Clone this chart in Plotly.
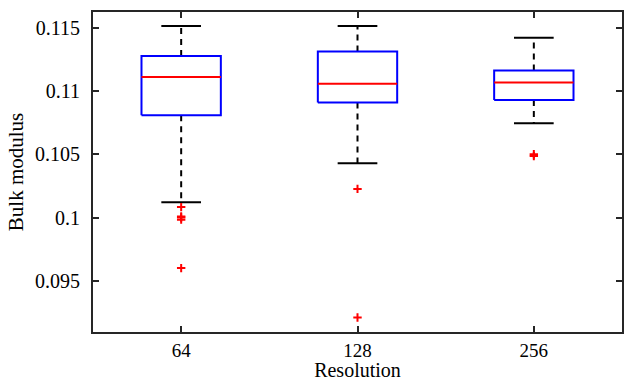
import plotly.graph_objects as go

categories = ["64", "128", "256"]
q1 = [0.1081, 0.1091, 0.10931]
median = [0.11113, 0.11058, 0.11068]
q3 = [0.11279, 0.11313, 0.11163]
lower_whisker = [0.10123, 0.10431, 0.10747]
upper_whisker = [0.11516, 0.11516, 0.11423]
outliers = [
    [0.10084, 0.1001, 0.10002, 0.09985, 0.09602],
    [0.10228, 0.09212],
    [0.10502, 0.10487],
]
ytick_vals = [0.095, 0.1, 0.105, 0.11, 0.115]
ytick_text = ["0.095", "0.1", "0.105", "0.11", "0.115"]

BOX_HW = 0.225
CAP_HW = 0.1125
FONT = "Liberation Serif"

fig = go.Figure()
for i, cat in enumerate(categories):
    x = i + 1
    fig.add_trace(go.Scatter(
        x=[x, x, None, x, x],
        y=[q3[i], upper_whisker[i], None, q1[i], lower_whisker[i]],
        mode="lines", line=dict(color="black", width=2, dash="6px,5px"),
        showlegend=False, hoverinfo="skip"))
    fig.add_trace(go.Scatter(
        x=[x - CAP_HW, x + CAP_HW, None, x - CAP_HW, x + CAP_HW],
        y=[upper_whisker[i], upper_whisker[i], None, lower_whisker[i], lower_whisker[i]],
        mode="lines", line=dict(color="black", width=2),
        showlegend=False, hoverinfo="skip"))
    fig.add_trace(go.Scatter(
        x=[x - BOX_HW, x + BOX_HW, x + BOX_HW, x - BOX_HW, x - BOX_HW],
        y=[q1[i], q1[i], q3[i], q3[i], q1[i]],
        mode="lines", line=dict(color="#0000ff", width=2),
        showlegend=False, hoverinfo="skip"))
    fig.add_trace(go.Scatter(
        x=[x - BOX_HW, x + BOX_HW], y=[median[i], median[i]],
        mode="lines", line=dict(color="#ff0000", width=2),
        showlegend=False, hoverinfo="skip"))
    fig.add_trace(go.Scatter(
        x=[x] * len(outliers[i]), y=outliers[i], mode="markers",
        marker=dict(symbol="cross-thin", size=6, line=dict(color="#ff0000", width=2)),
        showlegend=False))

fig.update_layout(
    width=625, height=381,
    margin=dict(l=93, r=1, t=12, b=49),
    plot_bgcolor="white", paper_bgcolor="white",
    font=dict(family=FONT, size=19, color="black"),
)
fig.update_xaxes(
    range=[0.5, 3.5], tickvals=[1, 2, 3], ticktext=categories,
    showgrid=False, zeroline=False, showline=True, linecolor="#262626", linewidth=2,
    mirror="ticks", ticks="inside", ticklen=6, tickwidth=1.5, tickcolor="#262626",
    tickfont=dict(family=FONT, size=19, color="black"),
    title=dict(text="Resolution", standoff=2, font=dict(family=FONT, size=20, color="black")),
)
fig.update_yaxes(
    range=[0.09097, 0.11626], tickvals=ytick_vals, ticktext=ytick_text,
    showgrid=False, zeroline=False, showline=True, linecolor="#262626", linewidth=2,
    mirror="ticks", ticks="inside", ticklen=6, tickwidth=1.5, tickcolor="#262626",
    ticklabelstandoff=7,
    tickfont=dict(family=FONT, size=20, color="black"),
    title=dict(text="Bulk modulus", standoff=6, font=dict(family=FONT, size=21, color="black")),
)
fig.write_html("out.html")
